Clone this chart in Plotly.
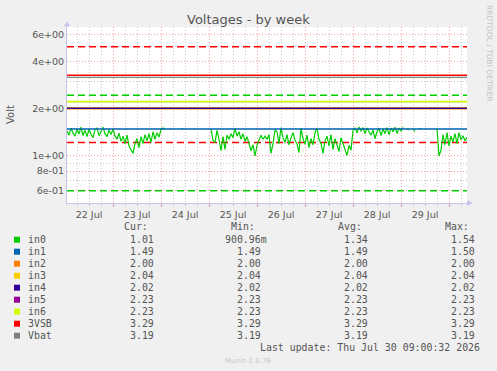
import math
import pandas as pd
import plotly.graph_objects as go

# ---------------- data ----------------
START = "2026-07-22 01:00"
END = "2026-07-30 09:00"
N = None
in0 = [
    1.45, 1.36, 1.51, 1.40, 1.34, 1.49, 1.38, 1.53, 1.35, 1.46,
    1.33, 1.48, 1.38, 1.31, 1.47, 1.51, 1.35, 1.45, 1.53, 1.39,
    1.33, 1.47, 1.37, 1.49, 1.34, 1.28, 1.40, 1.24, 1.34, 1.20,
    1.36, 1.16, 1.10, 1.04, 1.20, 1.29, 1.13, 1.33, 1.20, 1.37,
    1.25, 1.39, 1.22, 1.43, 1.28, 1.41, 1.32, 1.48, 1.51, 1.49,
    N, N, N, N, N, N, N, 1.50, 1.50, N,
    N, N, N, N, N, N, N, N, N, N,
    N, N, 1.48, 1.26, 1.22, 1.46, 1.28, 1.08, 1.33, 1.10,
    1.36, 1.28, 1.39, 1.31, 1.51, 1.34, 1.43, 1.28, 1.39, 1.24,
    1.33, 1.20, 1.08, 1.18, 1.00, 1.17, 1.27, 1.36, 1.28, 1.34,
    1.28, 1.37, 1.04, 1.20, 1.47, 1.43, 1.20, 1.52, 1.31, 1.22,
    1.37, 1.18, 1.31, 1.41, 1.26, 1.20, 1.05, 1.51, 1.29, 1.19,
    1.36, 1.13, 1.29, 1.18, 1.41, 1.51, 1.28, 1.20, 1.04, 1.25,
    1.34, 1.16, 1.37, 1.10, 1.29, 1.18, 1.07, 1.31, 1.20, 1.12,
    1.01, 1.17, 1.09, 1.46, 1.51, 1.41, 1.53, 1.45, 1.52, 1.39,
    1.51, 1.43, 1.36, 1.47, 1.29, 1.43, 1.51, 1.35, 1.49, 1.39,
    1.52, 1.37, 1.51, 1.43, 1.53, 1.39, 1.51, 1.44, 1.53, N,
    1.49, 1.47, N, 1.48, 1.44, N, 1.49, 1.50, N, N,
    N, N, N, N, N, 1.50, 1.00, 1.09, 1.37, 1.18,
    1.41, 1.16, 1.34, 1.23, 1.39, 1.20, 1.41, 1.27, 1.35, 1.25,
    1.32,
]
names = ["in0", "in1", "in2", "in3", "in4", "in5", "in6", "3VSB", "Vbat"]
colors = ["#00CC00", "#0066B3", "#FF8000", "#FFCC00", "#330099",
          "#990099", "#CCFF00", "#FF0000", "#808080"]
flat_levels = [None, 1.49, 2.00, 2.04, 2.02, 2.23, 2.23, 3.29, 3.19]
cur = ["1.01", "1.49", "2.00", "2.04", "2.02", "2.23", "2.23", "3.29", "3.19"]
mins = ["900.96m", "1.49", "2.00", "2.04", "2.02", "2.23", "2.23", "3.29", "3.19"]
avgs = ["1.34", "1.49", "2.00", "2.04", "2.02", "2.23", "2.23", "3.29", "3.19"]
maxs = ["1.54", "1.50", "2.00", "2.04", "2.02", "2.23", "2.23", "3.29", "3.19"]
thr_values = [0.6, 2.45, 1.22, 5.0]
thr_colors = ["#00CC00", "#00CC00", "#FF0000", "#FF0000"]
ytick_vals = [0.6, 0.8, 1, 2, 4, 6]
ytick_text = ["6e-01", "8e-01", "1e+00", "2e+00", "4e+00", "6e+00"]
y_minor = [0.5, 0.7, 0.9, 1.5, 3, 5]
Y_RANGE = [0.5, 6.7]
TITLE = "Voltages - by week"
YLABEL = "Volt"
LAST_UPDATE = "Last update: Thu Jul 30 09:00:32 2026"
VERSION = "Munin 2.0.76"
WATERMARK = "RRDTOOL / TOBI OETIKER"

# ---------------- layout geometry ----------------
W, H = 497, 371
L, R, T, B = 67, 467, 27, 203
PW, PH = R - L, B - T
line_widths = [1.2, 1.4, 1.2, 1.2, 1.4, 1.0, 1.8, 1.4, 1.4]


def px(x):
    return (x - L) / PW


def py(y):
    return (B - y) / PH


times = pd.date_range(START, periods=len(in0), freq="h")

fig = go.Figure()
for v, c in zip(thr_values, thr_colors):
    fig.add_trace(go.Scatter(x=[times[0], times[-1]], y=[v, v], mode="lines",
                             line=dict(color=c, width=1.5, dash="7px,4px"),
                             hoverinfo="skip", showlegend=False))
for i, (n, c) in enumerate(zip(names, colors)):
    yv = in0 if flat_levels[i] is None else [flat_levels[i]] * len(times)
    fig.add_trace(go.Scatter(x=times, y=yv, mode="lines", name=n,
                             line=dict(color=c, width=line_widths[i]),
                             connectgaps=False, showlegend=False))

fig.update_layout(
    width=W, height=H,
    margin=dict(l=L, r=W - R, t=T, b=H - B, pad=0),
    paper_bgcolor="#F0F0F0", plot_bgcolor="#FFFFFF",
    font=dict(family="DejaVu Sans", size=9.5, color="#555555"),
    showlegend=False,
)
fig.update_xaxes(
    type="date", range=[START, END],
    tick0="2026-07-22", dtick=86400000, ticklabelmode="period",
    tickformat="%d %b", showgrid=True, gridcolor="rgba(235,130,130,0.75)",
    griddash="1px,2px", gridwidth=1,
    ticks="outside", ticklen=3, tickcolor="rgba(235,130,130,0.9)",
    tickfont=dict(family="DejaVu Sans", size=9.5, color="#555555"),
    minor=dict(dtick=6 * 3600000, showgrid=True, gridcolor="#C8C8C8",
               griddash="1px,2px", ticks="outside", ticklen=2, tickcolor="#C8C8C8"),
    showline=True, linecolor="#C4C4EE", linewidth=1, zeroline=False,
    fixedrange=True,
)
fig.update_yaxes(
    type="log", range=[math.log10(Y_RANGE[0]), math.log10(Y_RANGE[1])],
    tickmode="array", tickvals=ytick_vals, ticktext=ytick_text,
    showgrid=True, gridcolor="rgba(235,130,130,0.75)", griddash="1px,2px",
    ticks="", tickfont=dict(family="DejaVu Sans", size=9.5, color="#555555"),
    minor=dict(tickmode="array", tickvals=y_minor, showgrid=True,
               gridcolor="#C8C8C8", griddash="1px,2px"),
    showline=True, linecolor="#C4C4EE", linewidth=1, zeroline=False,
    fixedrange=True,
)

ann = []
shapes = []
ann.append(dict(text=TITLE, x=px(248), y=py(19), xref="paper", yref="paper",
                showarrow=False, xanchor="center", yanchor="middle",
                font=dict(family="DejaVu Sans", size=13, color="#555555")))
ann.append(dict(text=YLABEL, x=px(10), y=py(115), xref="paper", yref="paper",
                showarrow=False, textangle=-90, xanchor="center", yanchor="middle",
                font=dict(family="DejaVu Sans", size=10, color="#555555")))
ann.append(dict(text=WATERMARK, x=px(490), y=py(53), xref="paper", yref="paper",
                showarrow=False, textangle=90, xanchor="center", yanchor="middle",
                font=dict(family="DejaVu Sans", size=7.5, color="#C4C4C4")))

MONO = dict(family="DejaVu Sans Mono", size=9.9, color="#555555")
CW = 5.95
col_right = [156, 263.3, 370, 477]
headers = ["Cur:", "Min:", "Avg:", "Max:"]
hdr_y = 227
for h, r in zip(headers, col_right):
    ann.append(dict(text=h, x=px(r - CW), y=py(hdr_y), xref="paper", yref="paper",
                    showarrow=False, xanchor="right", yanchor="middle", font=MONO))
row0, dy = 239.7, 12.0
for i, n in enumerate(names):
    yc = row0 + i * dy
    shapes.append(dict(type="rect", xref="paper", yref="paper",
                       x0=px(14), x1=px(20), y0=py(yc + 3), y1=py(yc - 3),
                       fillcolor=colors[i], line=dict(width=0)))
    ann.append(dict(text=n, x=px(26), y=py(yc), xref="paper", yref="paper",
                    showarrow=False, xanchor="left", yanchor="middle", font=MONO))
    for vals, r in zip([cur, mins, avgs, maxs], col_right):
        t = vals[i]
        rr = r + (CW if t[-1].isalpha() else 0)
        ann.append(dict(text=t, x=px(rr), y=py(yc), xref="paper", yref="paper",
                        showarrow=False, xanchor="right", yanchor="middle", font=MONO))
ann.append(dict(text=LAST_UPDATE, x=px(482), y=py(347.3), xref="paper", yref="paper",
                showarrow=False, xanchor="right", yanchor="middle", font=MONO))
ann.append(dict(text=VERSION, x=px(248), y=py(360.5), xref="paper", yref="paper",
                showarrow=False, xanchor="center", yanchor="middle",
                font=dict(family="DejaVu Sans", size=7, color="#C8C8C8")))

shapes.append(dict(type="path", xref="paper", yref="paper",
                   path=f"M {px(64)} {py(26.5)} L {px(70)} {py(26.5)} L {px(67)} {py(21)} Z",
                   fillcolor="#C4C4EE", line=dict(width=0)))
shapes.append(dict(type="path", xref="paper", yref="paper",
                   path=f"M {px(467)} {py(200)} L {px(467)} {py(206)} L {px(473)} {py(203)} Z",
                   fillcolor="#C4C4EE", line=dict(width=0)))

fig.update_layout(annotations=ann, shapes=shapes)
fig.write_html("out.html")
